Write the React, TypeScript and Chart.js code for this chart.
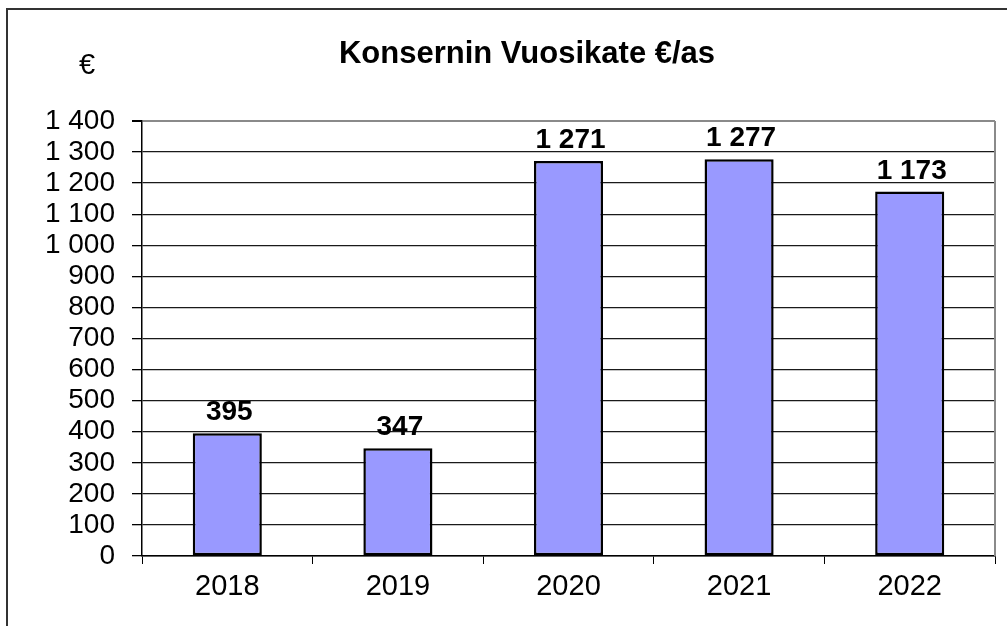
import React, { useEffect, useRef } from "react";
import { Chart, registerables } from "chart.js";

Chart.register(...registerables);

const categories: string[] = ["2018", "2019", "2020", "2021", "2022"];
const values: number[] = [395, 347, 1271, 1277, 1173];
const yMin = 0;
const yMax = 1400;
const yStep = 100;
const titleText = "Konsernin Vuosikate €/as";
const unitText = "€";

const FONT = "'Liberation Sans', Arial, sans-serif";

function fmt(v: number): string {
  if (v >= 1000) {
    return Math.floor(v / 1000) + " " + String(v % 1000).padStart(3, "0");
  }
  return String(v);
}

const decorPlugin = {
  id: "decor",
  beforeDraw(chart: any) {
    const { ctx, width, height } = chart;
    ctx.save();
    ctx.fillStyle = "#ffffff";
    ctx.fillRect(0, 0, width, height);
    ctx.restore();
  },
  afterDraw(chart: any) {
    const { ctx, chartArea } = chart;
    ctx.save();
    // plot area right border
    ctx.strokeStyle = "#8a8a8a";
    ctx.lineWidth = 2;
    ctx.beginPath();
    ctx.moveTo(chartArea.right, chartArea.top);
    ctx.lineTo(chartArea.right, chartArea.bottom);
    ctx.stroke();

    // outer frame
    ctx.strokeStyle = "#333333";
    ctx.lineWidth = 2;
    ctx.beginPath();
    ctx.moveTo(7, 640);
    ctx.lineTo(7, 9);
    ctx.lineTo(1007, 9);
    ctx.stroke();

    // title
    ctx.fillStyle = "#000000";
    ctx.font = `bold 31px ${FONT}`;
    ctx.textAlign = "center";
    ctx.textBaseline = "alphabetic";
    ctx.fillText(titleText, 527, 63);

    // unit
    ctx.font = `29px ${FONT}`;
    ctx.fillText(unitText, 87, 74);

    // data labels
    const meta = chart.getDatasetMeta(0);
    ctx.font = `bold 28px ${FONT}`;
    meta.data.forEach((bar: any, i: number) => {
      ctx.fillText(fmt(values[i]), bar.x + 2, bar.y - 13);
    });
    ctx.restore();
  },
};

export default function App() {
  const ref = useRef<HTMLCanvasElement | null>(null);

  useEffect(() => {
    if (!ref.current) return;
    const chart = new Chart(ref.current, {
      type: "bar",
      data: {
        labels: categories,
        datasets: [
          {
            data: values,
            backgroundColor: "#9999ff",
            borderColor: "#000000",
            borderWidth: 2.5,
            borderSkipped: false,
            categoryPercentage: 1,
            barPercentage: 0.405,
          },
        ],
      },
      options: {
        animation: false,
        responsive: false,
        devicePixelRatio: 1,
        layout: { padding: { top: 121, right: 12, bottom: 0, left: 0 } },
        plugins: {
          legend: { display: false },
          title: { display: false },
          tooltip: { enabled: false },
        },
        scales: {
          x: {
            afterFit: (scale: any) => {
              scale.height = 70;
            },
            grid: {
              offset: true,
              drawOnChartArea: false,
              drawTicks: true,
              tickLength: 8,
              tickColor: "#000000",
              color: "#000000",
            },
            border: { display: true, color: "#000000", width: 1.5 },
            ticks: {
              color: "#000000",
              padding: 6,
              autoSkip: false,
              font: { family: FONT, size: 29 },
            },
          },
          y: {
            min: yMin,
            max: yMax,
            afterFit: (scale: any) => {
              scale.width = 142;
            },
            grid: {
              color: (c: any) => (c.tick && c.tick.value === yMax ? "#8a8a8a" : "#1a1a1a"),
              lineWidth: (c: any) => (c.tick && c.tick.value === yMax ? 2 : 1.3),
              tickLength: 10,
              tickColor: "#000000",
            },
            border: { display: true, color: "#000000", width: 1.5 },
            ticks: {
              stepSize: yStep,
              autoSkip: false,
              color: "#000000",
              padding: 17,
              font: { family: FONT, size: 28 },
              callback: (v: any) => fmt(Number(v)),
            },
          },
        },
      },
      plugins: [decorPlugin],
    });
    return () => chart.destroy();
  }, []);

  return (
    <div style={{ position: "fixed", left: 0, top: 0, width: 1007, height: 626, background: "#fff" }}>
      <canvas ref={ref} width={1007} height={626} style={{ width: 1007, height: 626, display: "block" }} />
    </div>
  );
}
